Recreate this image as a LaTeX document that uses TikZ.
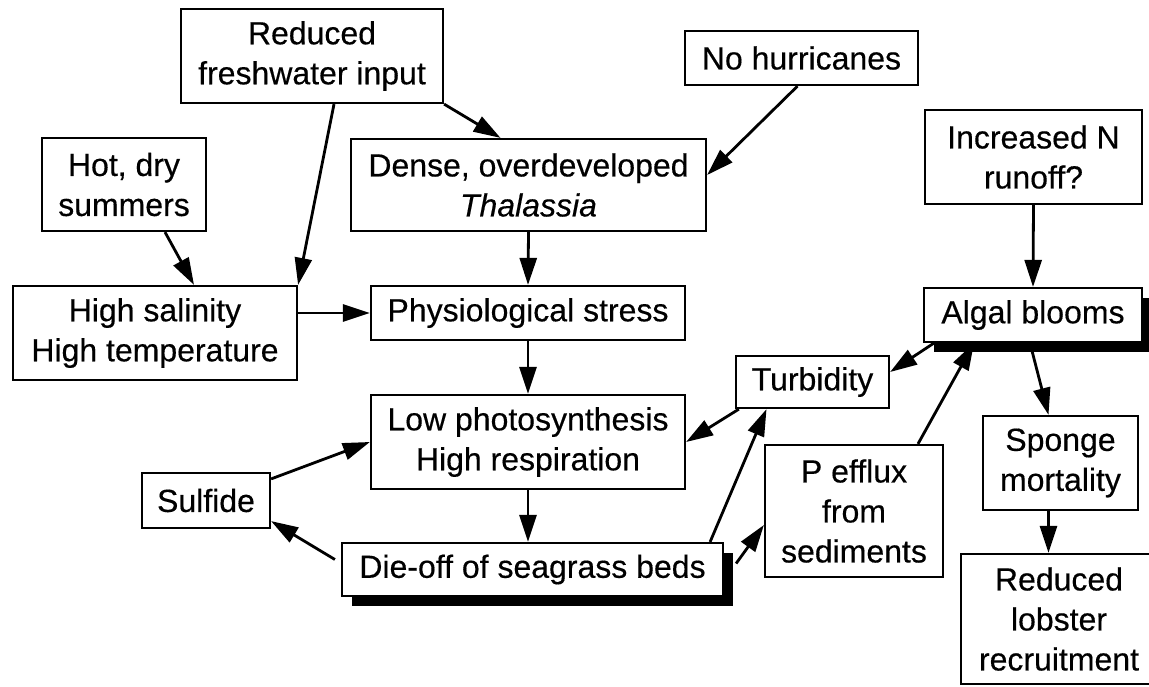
\documentclass[tikz,border=0pt]{standalone}
\usepackage{fontspec}
\setmainfont{Liberation Sans}[FakeBold=0.4]
\usepackage{tikz}
\usetikzlibrary{arrows.meta, shadows}

\begin{document}
\begin{tikzpicture}[
    x=1pt, y=-1pt,
    boxnode/.style={rectangle, draw=black, line width=2.2pt, fill=white, align=center, inner sep=0pt, font=\fontsize{32}{40}\selectfont},
    shadenode/.style={boxnode, drop shadow={shadow xshift=10pt, shadow yshift=-10pt, fill=black, opacity=1}},
    link/.style={line width=2.8pt, -{Triangle[length=27pt, width=17pt]}},
]
\useasboundingbox (0,0) rectangle (1149,686);
\node[boxnode, minimum width=262pt, minimum height=94pt](fresh) at (312,56){Reduced\\freshwater input};
\node[boxnode, minimum width=164pt, minimum height=93pt](hot) at (124,184.5){Hot, dry\\summers};
\node[boxnode, minimum width=355pt, minimum height=92pt](dense) at (528.5,185){Dense, overdeveloped\\\textit{Thalassia}};
\node[boxnode, minimum width=233pt, minimum height=54pt](hurr) at (801.5,58){No hurricanes};
\node[boxnode, minimum width=217pt, minimum height=94pt](nrun) at (1033.5,157){Increased N\\runoff?};
\node[boxnode, minimum width=284pt, minimum height=94pt](sal) at (155,333){High salinity\\High temperature};
\node[boxnode, minimum width=314pt, minimum height=54pt](phys) at (528,313){Physiological stress};
\node[shadenode, minimum width=218pt, minimum height=54pt](algal) at (1033,315){Algal blooms};
\node[boxnode, minimum width=153pt, minimum height=52pt](turb) at (812.5,382){Turbidity};
\node[boxnode, minimum width=314pt, minimum height=94pt](photo) at (528,442){Low photosynthesis\\High respiration};
\node[boxnode, minimum width=128pt, minimum height=55pt](sulf) at (206,500.5){Sulfide};
\node[boxnode, minimum width=178pt, minimum height=132pt](peff) at (854,511){P efflux\\from\\sediments};
\node[shadenode, minimum width=381pt, minimum height=53pt](die) at (532.5,569.5){Die-off of seagrass beds};
\node[boxnode, minimum width=155pt, minimum height=94pt](spong) at (1060.5,463){Sponge\\mortality};
\node[boxnode, minimum width=196pt, minimum height=130pt](lob) at (1059,619){Reduced\\lobster\\recruitment};
\draw[link] ([xshift=41pt]hot.south) -- ([xshift=39pt]sal.north);
\draw[link] ([xshift=22pt]fresh.south) -- (sal.north east);
\draw[link] (fresh.south east) -- ([xshift=-28pt]dense.north);
\draw[link] ([xshift=-4pt]hurr.south) -- ([yshift=10pt]dense.east);
\draw[link] (phys.west -| sal.east) -- (phys.west);
\draw[link] (dense.south) -- (phys.north);
\draw[link] (nrun.south) -- (algal.north);
\draw[link] (phys.south) -- (photo.north);
\draw[link] (photo.south) -- (photo.south |- die.north);
\draw[link] ([xshift=11pt]algal.south west) -- ([yshift=10pt]turb.east);
\draw[link] ([xshift=4pt]turb.south west) -- (photo.east);
\draw[link] ([xshift=-14pt]die.north east) -- ([xshift=-46pt]turb.south);
\draw[link] ([xshift=12pt,yshift=6pt]die.east) -- ([yshift=-14pt]peff.west);
\draw[link] ([xshift=64pt]peff.north) -- ([xshift=-59pt]algal.south);
\draw[link] ([xshift=-3pt]algal.south) -- ([xshift=-12pt]spong.north);
\draw[link] ([xshift=-12pt]spong.south) -- ([xshift=-12pt]spong.south |- lob.north);
\draw[link] ([yshift=-7pt]sulf.north east) -- (photo.west);
\draw[link] ([xshift=-6pt,yshift=10pt]die.west) -- ([yshift=8pt]sulf.south east);
\end{tikzpicture}
\end{document}
